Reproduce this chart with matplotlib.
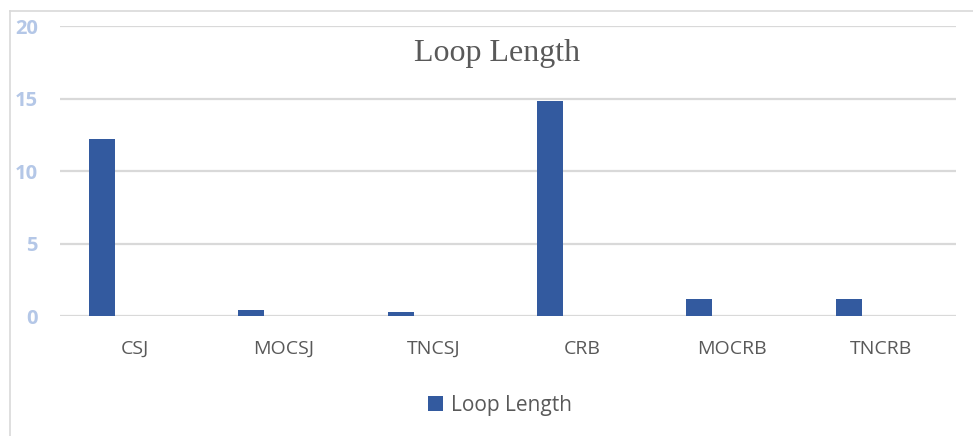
import matplotlib
matplotlib.use("Agg")
import matplotlib.pyplot as plt
from matplotlib.lines import Line2D
from matplotlib.patches import Patch

categories = ["CSJ", "MOCSJ", "TNCSJ", "CRB", "MOCRB", "TNCRB"]
loop_length = [12.2, 0.4, 0.3, 14.8, 1.2, 1.2]
y_ticks = [0, 5, 10, 15, 20]

bar_color = "#335A9F"
grid_color = "#D9D9D9"
text_gray = "#595959"
tick_blue = "#B4C7E7"

W, H = 973, 436
fig = plt.figure(figsize=(W / 100, H / 100), dpi=100)
ax = fig.add_axes([60 / W, 1 - 316 / H, (956 - 60) / W, (316 - 26) / H])

n = len(categories)
slot_offset = -0.219
bar_width = 0.174
xs = [i + slot_offset for i in range(n)]
ax.bar(xs, loop_length, width=bar_width, color=bar_color, zorder=3)

ax.set_xlim(-0.5, n - 0.5)
ax.set_ylim(0, 20)
ax.set_yticks(y_ticks)
ax.set_yticklabels([str(t) for t in y_ticks], color=tick_blue,
                   fontsize=14.5, fontweight="bold", family="Open Sans")
ax.set_xticks(range(n))
ax.set_xticklabels(categories, color=text_gray, fontsize=14, family="Open Sans")
ax.tick_params(axis="both", length=0)
ax.tick_params(axis="y", pad=16)
ax.tick_params(axis="x", pad=17)
ax.yaxis.grid(True, color=grid_color, linewidth=1.6, zorder=0)
for s in ax.spines.values():
    s.set_visible(False)

fig.text(497 / W, 1 - 54 / H, "Loop Length", ha="center", va="center",
         fontsize=23, family="Liberation Serif", color=text_gray)

handle = Patch(facecolor=bar_color, edgecolor="none")
fig.legend([handle], ["Loop Length"], loc="center",
           bbox_to_anchor=(500 / W, 1 - 405 / H), frameon=False,
           prop={"family": "Open Sans", "size": 15}, labelcolor=text_gray,
           handlelength=0.75, handleheight=0.75, handletextpad=0.4)

# outer chart frame (top and left edges)
fig.add_artist(Line2D([10 / W, 1], [1 - 11 / H, 1 - 11 / H],
                      transform=fig.transFigure, color=grid_color, linewidth=1.2))
fig.add_artist(Line2D([10 / W, 10 / W], [0, 1 - 11 / H],
                      transform=fig.transFigure, color=grid_color, linewidth=1.2))

fig.savefig("out.png", dpi=100)
